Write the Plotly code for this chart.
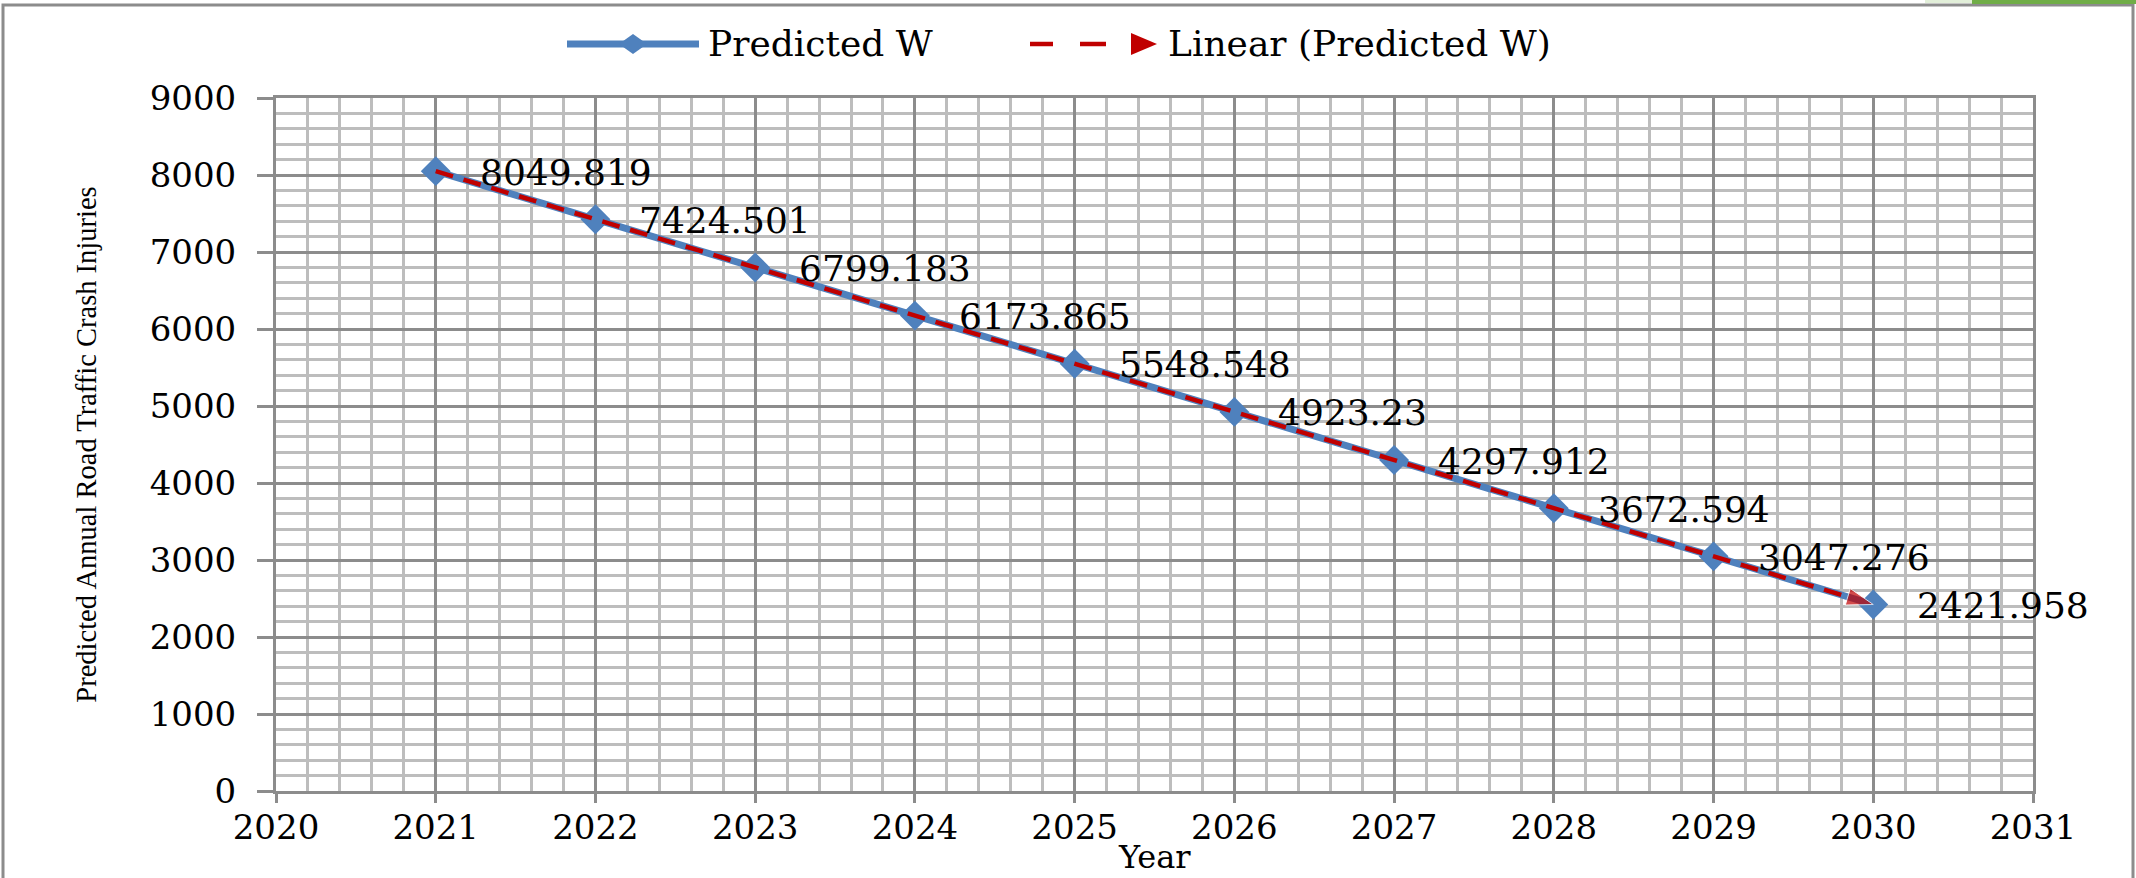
import plotly.graph_objects as go

# ---------------- data ----------------
years = [2021, 2022, 2023, 2024, 2025, 2026, 2027, 2028, 2029, 2030]
predicted_w = [8049.819, 7424.501, 6799.183, 6173.865, 5548.548,
               4923.23, 4297.912, 3672.594, 3047.276, 2421.958]
value_labels = ["8049.819", "7424.501", "6799.183", "6173.865", "5548.548",
                "4923.23", "4297.912", "3672.594", "3047.276", "2421.958"]
series_names = ["Predicted W", "Linear (Predicted W)"]
x_title = "Year"
y_title = "Predicted Annual Road Traffic Crash Injuries"
x_range = [2020, 2031]
y_range = [0, 9000]

# ---------------- style ----------------
W, H = 2136, 878
L, R, T, B = 276, 2033, 98, 791        # plot area in pixels
BLUE = "#4F81BD"
RED = "#C00000"
MAJOR = "#8c8c8c"
MINOR = "#bdbdbd"
TICKFONT = dict(family="DejaVu Serif", size=34, color="black")


def px(x):
    return (x - L) / (R - L)


def py(y):
    return (B - y) / (B - T)


fig = go.Figure()

fig.add_trace(go.Scatter(
    x=years, y=predicted_w, mode="lines+markers", name=series_names[0],
    line=dict(color=BLUE, width=7),
    marker=dict(symbol="diamond", size=23, color=BLUE),
    showlegend=False, hoverinfo="skip",
))

# linear trend of the series (least-squares fit) with arrow at the end
n = len(years)
xm = sum(years) / n
ym = sum(predicted_w) / n
slope = sum((a - xm) * (b - ym) for a, b in zip(years, predicted_w)) / sum((a - xm) ** 2 for a in years)
trend = [ym + slope * (a - xm) for a in years]
fig.add_trace(go.Scatter(
    x=years, y=trend, mode="lines+markers", name=series_names[1],
    line=dict(color=RED, width=4.5, dash="18px,11px"),
    marker=dict(symbol="arrow", angleref="previous",
                size=[0] * (n - 1) + [28], color=RED),
    showlegend=False, hoverinfo="skip",
))

# data labels
for xv, yv, t in zip(years, predicted_w, value_labels):
    fig.add_annotation(x=xv, y=yv, text=t, showarrow=False, xanchor="left",
                       yanchor="middle", xshift=42, yshift=-1,
                       font=dict(family="DejaVu Serif", size=36, color="black"))

# ---------------- custom legend ----------------
LEG_Y = 44
LEGFONT = dict(family="DejaVu Serif", size=36, color="black")
shapes = []
shapes.append(dict(type="line", xref="paper", yref="paper",
                   x0=px(567), x1=px(699), y0=py(LEG_Y), y1=py(LEG_Y),
                   line=dict(color=BLUE, width=7)))
shapes.append(dict(type="path", xref="paper", yref="paper",
                   xsizemode="pixel", ysizemode="pixel",
                   xanchor=px(633), yanchor=py(LEG_Y),
                   path="M-14,0 L0,10 L14,0 L0,-10 Z",
                   fillcolor=BLUE, line=dict(width=0)))
for a, b in [(1030, 1053), (1080, 1106)]:
    shapes.append(dict(type="line", xref="paper", yref="paper",
                       x0=px(a), x1=px(b), y0=py(LEG_Y), y1=py(LEG_Y),
                       line=dict(color=RED, width=4.5)))
shapes.append(dict(type="path", xref="paper", yref="paper",
                   xsizemode="pixel", ysizemode="pixel",
                   xanchor=px(1144), yanchor=py(LEG_Y),
                   path="M-13,-11 L13,0 L-13,11 Z",
                   fillcolor=RED, line=dict(width=0)))
fig.add_annotation(xref="paper", yref="paper", x=px(706), y=py(LEG_Y),
                   text=series_names[0], showarrow=False, xanchor="left",
                   yanchor="middle", font=LEGFONT)
fig.add_annotation(xref="paper", yref="paper", x=px(1166), y=py(LEG_Y),
                   text=series_names[1], showarrow=False, xanchor="left",
                   yanchor="middle", font=LEGFONT)

# x-axis title placed below the tick labels
fig.add_annotation(xref="paper", yref="paper", x=0.5, y=py(857),
                   text=x_title, showarrow=False, xanchor="center",
                   yanchor="middle",
                   font=dict(family="DejaVu Serif", size=32, color="black"))

# outer chart-area border and top-right strip
shapes.append(dict(type="rect", xref="paper", yref="paper",
                   x0=px(3), x1=px(2133), y0=py(900), y1=py(5),
                   line=dict(color="#8c8c8c", width=3), fillcolor="rgba(0,0,0,0)"))
shapes.append(dict(type="rect", xref="paper", yref="paper",
                   x0=px(1925), x1=px(1972), y0=py(3), y1=py(0),
                   line=dict(width=0), fillcolor="#e2efd9"))
shapes.append(dict(type="rect", xref="paper", yref="paper",
                   x0=px(1972), x1=px(2136), y0=py(4), y1=py(0),
                   line=dict(width=0), fillcolor="#70ad47"))

fig.update_layout(
    width=W, height=H,
    margin=dict(l=L, r=W - R, t=T, b=H - B, autoexpand=False),
    paper_bgcolor="white", plot_bgcolor="white",
    shapes=shapes, showlegend=False,
)

fig.update_xaxes(
    range=x_range, dtick=1, tick0=2020,
    showgrid=True, gridcolor=MAJOR, gridwidth=3,
    minor=dict(dtick=0.2, showgrid=True, gridcolor=MINOR, gridwidth=3),
    showline=True, linecolor=MAJOR, linewidth=3, mirror=True,
    ticks="outside", ticklen=9, tickwidth=3, tickcolor=MAJOR,
    tickfont=TICKFONT, zeroline=False, ticklabelstandoff=-5,
)
fig.update_yaxes(
    range=y_range, dtick=1000, tick0=0,
    showgrid=True, gridcolor=MAJOR, gridwidth=3,
    minor=dict(dtick=200, showgrid=True, gridcolor=MINOR, gridwidth=3),
    showline=True, linecolor=MAJOR, linewidth=3, mirror=True,
    ticks="outside", ticklen=16, tickwidth=3, tickcolor=MAJOR,
    tickfont=TICKFONT, zeroline=False, ticklabelstandoff=14,
    title=dict(text=y_title, standoff=45,
               font=dict(family="Liberation Serif", size=28.5, color="black")),
)

fig.write_html("out.html", config={"displayModeBar": False},
               post_script="document.body.style.margin='0';document.body.style.overflow='hidden';")
